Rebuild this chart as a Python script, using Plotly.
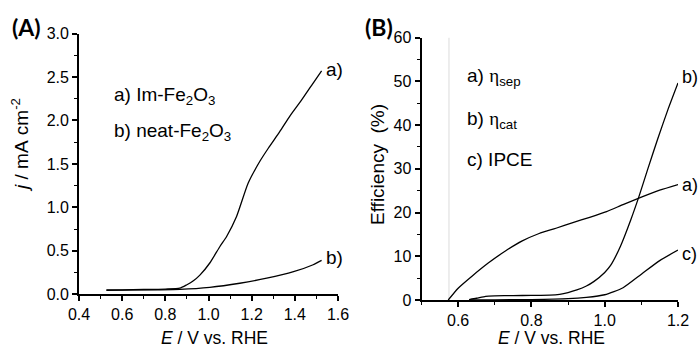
import plotly.graph_objects as go

# ---------------- data ----------------
# Panel A: current density vs potential
E_A_a = [0.527, 0.60, 0.70, 0.80, 0.867, 0.898, 0.93, 0.96, 1.006, 1.053, 1.084, 1.13, 1.184, 1.238, 1.277, 1.33, 1.377, 1.43, 1.485, 1.524]
j_a = [0.050, 0.052, 0.055, 0.060, 0.070, 0.107, 0.155, 0.22, 0.36, 0.55, 0.665, 0.895, 1.28, 1.53, 1.68, 1.87, 2.05, 2.23, 2.43, 2.57]
E_A_b = [0.527, 0.70, 0.867, 1.006, 1.145, 1.27, 1.394, 1.485, 1.524]
j_b = [0.045, 0.050, 0.057, 0.080, 0.127, 0.185, 0.26, 0.34, 0.39]

# Panel B: efficiencies vs potential
E_sep = [0.573, 0.60, 0.637, 0.683, 0.729, 0.775, 0.821, 0.867, 0.913, 0.959, 1.005, 1.05, 1.10, 1.15, 1.20]
eta_sep = [0, 2.7, 5.4, 8.5, 11.2, 13.5, 15.2, 16.4, 17.7, 18.9, 20.2, 21.8, 23.5, 25.1, 26.4]
E_cat = [0.63, 0.65, 0.675, 0.70, 0.75, 0.80, 0.85, 0.877, 0.90, 0.924, 0.95, 0.97, 1.0, 1.016, 1.043, 1.071, 1.094, 1.117, 1.145, 1.172, 1.20]
eta_cat = [0.1, 0.4, 0.85, 0.95, 1.0, 1.05, 1.1, 1.3, 1.7, 2.3, 3.2, 4.2, 6.3, 7.9, 12.3, 18.3, 23.8, 29.8, 36.9, 43.4, 49.6]
E_ipce = [0.63, 0.70, 0.80, 0.90, 0.95, 1.0, 1.05, 1.10, 1.15, 1.20]
ipce = [0, 0.05, 0.1, 0.3, 0.6, 1.2, 2.8, 5.9, 9.0, 11.4]
ref_line_E = 0.575

legend_A = ["a) Im-Fe<sub>2</sub>O<sub>3</sub>", "b) neat-Fe<sub>2</sub>O<sub>3</sub>"]
legend_B = ["a) <span style='font-family:Liberation Serif'>η</span><sub>sep</sub>",
            "b) <span style='font-family:Liberation Serif'>η</span><sub>cat</sub>",
            "c) IPCE"]

# ---------------- figure ----------------
W, H = 698, 347
SANS = "Liberation Sans, Arial, sans-serif"
LW = 1.3
FS = 19

fig = go.Figure()
line = dict(color="black", width=LW, shape="spline", smoothing=0.6)
fig.add_trace(go.Scatter(x=E_A_a, y=j_a, mode="lines", line=line, xaxis="x", yaxis="y", showlegend=False))
fig.add_trace(go.Scatter(x=E_A_b, y=j_b, mode="lines", line=line, xaxis="x", yaxis="y", showlegend=False))
fig.add_trace(go.Scatter(x=[ref_line_E, ref_line_E], y=[0, 60], mode="lines",
                         line=dict(color="#dcdcdc", width=1), xaxis="x2", yaxis="y2", showlegend=False))
fig.add_trace(go.Scatter(x=E_sep, y=eta_sep, mode="lines", line=line, xaxis="x2", yaxis="y2", showlegend=False))
fig.add_trace(go.Scatter(x=E_cat, y=eta_cat, mode="lines", line=line, xaxis="x2", yaxis="y2", showlegend=False))
fig.add_trace(go.Scatter(x=E_ipce, y=ipce, mode="lines", line=line, xaxis="x2", yaxis="y2", showlegend=False))

def px(x):
    return x / W

def py(y):
    return 1 - y / H

axis_common = dict(showline=True, linecolor="black", linewidth=1.8, ticks="outside",
                   ticklen=5, tickwidth=1.5, tickcolor="black", showgrid=False, zeroline=False,
                   automargin=False,
                   tickfont=dict(family=SANS, size=16, color="black"))

fig.update_layout(
    template="none",
    width=W, height=H, margin=dict(l=0, r=0, t=0, b=0, pad=0),
    paper_bgcolor="white", plot_bgcolor="white",
    xaxis=dict(domain=[px(79), px(338)], range=[0.4, 1.6], dtick=0.2, tick0=0.4, tickformat=".1f",
               minor=dict(dtick=0.1, ticklen=3, tickwidth=1.2, ticks="outside", tickcolor="black"),
               anchor="y", **axis_common),
    yaxis=dict(domain=[py(294.3), py(33.5)], range=[0, 3.0], dtick=0.5, tickformat=".1f",
               minor=dict(dtick=0.25, ticklen=3, tickwidth=1.2, ticks="outside", tickcolor="black"),
               anchor="x", **axis_common),
    xaxis2=dict(domain=[px(421.5), px(678)], range=[0.5, 1.2], dtick=0.2, tick0=0.6, tickformat=".1f",
                minor=dict(dtick=0.1, tick0=0.5, ticklen=3, tickwidth=1.2, ticks="outside", tickcolor="black"),
                anchor="y2", **axis_common),
    yaxis2=dict(domain=[py(300), py(37.5)], range=[0, 60], dtick=10,
                minor=dict(dtick=5, ticklen=3, tickwidth=1.2, ticks="outside", tickcolor="black"),
                anchor="x2", **axis_common),
)

ann = []
def text(x, y, s, size=FS, xanchor="center", yanchor="middle", angle=0, family=SANS, **kw):
    ann.append(dict(x=px(x), y=py(y), xref="paper", yref="paper", text=s, showarrow=False,
                    xanchor=xanchor, yanchor=yanchor, textangle=angle,
                    font=dict(family=family, size=size, color="black"), **kw))

NB = "\u00a0"
# panel labels
text(26, 27, "<b>(A)</b>", size=23, family="Lato, Liberation Sans, sans-serif")
text(379, 27, "<b>(B)</b>", size=23, family="Lato, Liberation Sans, sans-serif")
# axis titles
text(214, 338, "<i>E</i> / V vs. RHE", size=17.5)
text(551, 338, "<i>E</i> / V vs. RHE", size=17.5)
text(20, 145, f"<i>j</i>{NB}/{NB}mA{NB}cm<sup>-2</sup>", size=FS, angle=-90)
text(377, 165, f"Efficiency{NB} (%)", size=FS, angle=-90)
# legend texts
for s, yy in zip(legend_A, [96, 132]):
    text(112, yy, s, size=FS, xanchor="left")
for s, yy in zip(legend_B, [77, 120, 159]):
    text(465, yy, s, size=FS, xanchor="left")
fig.update_layout(annotations=ann)

# curve end labels
def endlabel(xs, ys, s, xr, yr, yshift=0, size=FS):
    fig.add_annotation(x=xs[-1], y=ys[-1], xref=xr, yref=yr, text=s, showarrow=False,
                       xanchor="left", yanchor="middle", xshift=2, yshift=yshift,
                       font=dict(family=SANS, size=size, color="black"))

endlabel(E_A_a, j_a, "a)", "x", "y", 1)
endlabel(E_A_b, j_b, "b)", "x", "y", 3)
endlabel(E_cat, eta_cat, "b)", "x2", "y2", 6, 18)
endlabel(E_sep, eta_sep, "a)", "x2", "y2", 0, 18)
endlabel(E_ipce, ipce, "c)", "x2", "y2", -4, 18)

fig.write_html("out.html", config={"displayModeBar": False},
               post_script="document.body.style.margin='0px';document.body.style.overflow='hidden';")
